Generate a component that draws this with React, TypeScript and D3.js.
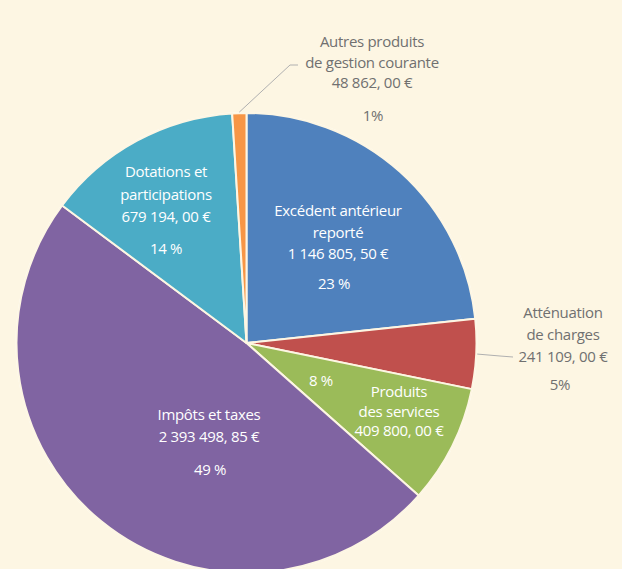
import React from "react";
import * as d3 from "d3";

const categories = [
  "Excédent antérieur reporté",
  "Atténuation de charges",
  "Produits des services",
  "Impôts et taxes",
  "Dotations et participations",
  "Autres produits de gestion courante",
];
const values = [1146805.5, 241109.0, 409800.0, 2393498.85, 679194.0, 48862.0];
const amountLabels = [
  "1 146 805, 50 €",
  "241 109, 00 €",
  "409 800, 00 €",
  "2 393 498, 85 €",
  "679 194, 00 €",
  "48 862, 00 €",
];
const percentLabels = ["23 %", "5%", "8 %", "49 %", "14 %", "1%"];
const colors = ["#4F81BD", "#C0504D", "#9BBB59", "#8064A2", "#4BACC6", "#F79646"];

// label layout: lines (name split), position of text block centre, percent position
const labelLayout = [
  { lines: ["Excédent antérieur", "reporté"], x: 338, y: 211, step: 21.5, pct: [334, 284], fill: "#fff" },
  { lines: ["Atténuation", "de  charges"], x: 563, y: 313, step: 22, pct: [560, 385], fill: "#707070" },
  { lines: ["Produits", "des services"], x: 399, y: 392, step: 19.5, pct: [321, 381], fill: "#fff" },
  { lines: ["Impôts et taxes"], x: 209, y: 415, step: 22, pct: [210, 470], fill: "#fff" },
  { lines: ["Dotations et", "participations"], x: 166, y: 172, step: 22.5, pct: [166, 249], fill: "#fff" },
  { lines: ["Autres produits", "de gestion courante"], x: 372, y: 42, step: 20.5, pct: [373, 116], fill: "#707070" },
];

const W = 622;
const H = 569;
const cx = 246.5;
const cy = 343;
const R = 230;

export default function App() {
  const pie = d3.pie<number>().sort(null).value((d) => d)(values);
  const arc = d3.arc<d3.PieArcDatum<number>>().innerRadius(0).outerRadius(R);

  const leader = (i: number, end: [number, number], elbow: [number, number]) => {
    const a = (pie[i].startAngle + pie[i].endAngle) / 2;
    const sx = cx + Math.sin(a) * (R + 1);
    const sy = cy - Math.cos(a) * (R + 1);
    return `M${sx},${sy}L${elbow[0]},${elbow[1]}L${end[0]},${end[1]}`;
  };

  return (
    <svg width={W} height={H} style={{ position: "absolute", left: 0, top: 0, background: "#FDF6E3" }}>
      <rect x={0} y={0} width={W} height={H} fill="#FDF6E3" />
      <g transform={`translate(${cx},${cy})`}>
        <circle r={R + 1} fill="#ffffff" />
        {pie.map((p, i) => (
          <path key={i} d={arc(p) || ""} fill={colors[i]} stroke="#FDF6E3" strokeWidth={2} strokeLinejoin="round" />
        ))}
      </g>
      <path d={leader(5, [298, 65], [290, 65])} fill="none" stroke="#b0b0b0" strokeWidth={1} />
      <path d={leader(1, [513, 357], [500, 356])} fill="none" stroke="#b0b0b0" strokeWidth={1} />
      <g fontFamily="'Open Sans', 'Noto Sans', sans-serif" fontSize={15} textAnchor="middle">
        {labelLayout.map((l, i) => {
          const lines = [...l.lines, amountLabels[i]];
          return (
            <g key={i} fill={l.fill}>
              {lines.map((t, j) => (
                <text key={j} x={l.x} y={l.y + j * l.step} dy="0.35em" letterSpacing={-0.3}>
                  {t}
                </text>
              ))}
              <text x={l.pct[0]} y={l.pct[1]} dy="0.35em" letterSpacing={-0.3}>
                {percentLabels[i]}
              </text>
            </g>
          );
        })}
      </g>
    </svg>
  );
}
